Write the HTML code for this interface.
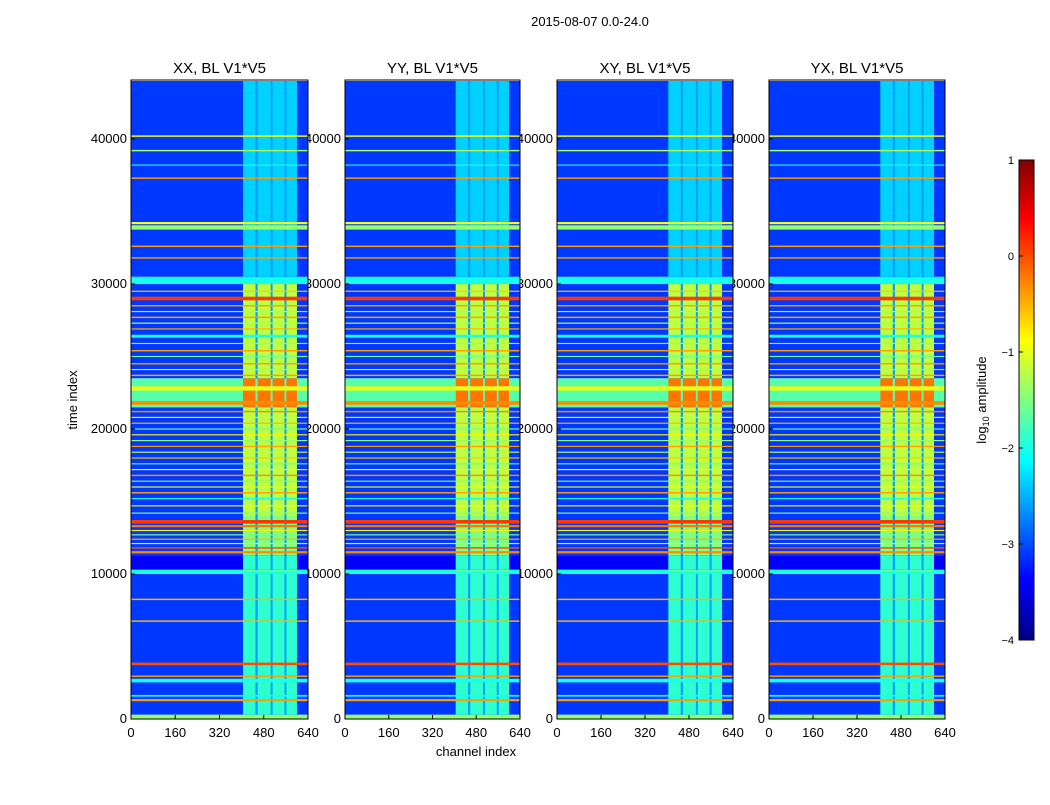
<!DOCTYPE html>
<html><head><meta charset="utf-8"><style>
body{margin:0;background:#fff;font-family:"Liberation Sans",sans-serif}
svg text{font-family:"Liberation Sans",sans-serif}
</style></head><body>
<svg id="c" width="1050" height="800" xmlns="http://www.w3.org/2000/svg">
<text x="590" y="26" font-size="13" text-anchor="middle">2015-08-07 0.0-24.0</text>
</svg>
<script>
const panelTitles=["XX, BL V1*V5","YY, BL V1*V5","XY, BL V1*V5","YX, BL V1*V5"];
const xTicks=[0,160,320,480,640];
const yTicks=[0,10000,20000,30000,40000];
const cbTicks=[1,0,-1,-2,-3,-4];
// sections: [t0,t1,outsideValue,bandValue]
const sections=[[0,300,-1.4,-1.4],[300,10000,-3.1,-1.9],[10000,10300,-2.0,-1.6],[10300,11300,-3.4,-1.9],[11300,14000,-3.1,-1.5],[14000,21500,-3.1,-1.2],[21500,23500,-1.7,-0.2],[23500,30000,-3.1,-1.2],[30000,30500,-2.1,-2.1],[30500,44000,-3.1,-2.35]];
const bandCols=[[405,450],[458,505],[512,555],[562,600]];
const gapVal=-2.6;
// horizontal lines: [time, thickness, value]
const lines=[[1300,150,-0.4],[1600,120,-2.0],[2650,250,-2.0],[2950,100,-0.4],[3800,180,0.0],[6750,100,-0.5],[8250,100,-0.5],[10100,150,-2.0],
[11500,150,-0.3],[11800,100,0.0],[12100,80,-1.0],[12400,80,-0.5],[12700,80,-1.5],[13000,80,-0.8],[13300,150,-0.2],[13600,250,0.1],[14200,80,-1.5],[14700,80,-0.9],[15200,80,-2.0],[15600,100,-0.4],[16000,80,-1.0],[16400,80,-1.5],[16800,100,-0.3],[17200,80,-0.9],[17600,80,-1.6],[18000,80,-0.6],[18400,80,-1.2],[18800,80,-0.4],[19200,80,-1.4],[19600,80,-0.8],[20000,80,-1.6],[20400,80,-0.5],[20800,80,-1.0],[21200,100,-0.3],
[21800,250,-0.3],[22800,300,-1.0],[23700,100,-0.4],[24100,80,-1.3],[24500,100,-0.4],[25000,80,-1.6],[25400,100,-0.4],[25900,80,-1.4],[26400,200,-2.0],[26900,80,-0.5],[27300,80,-1.2],[27700,100,-0.4],[28100,80,-1.3],[28500,100,-0.4],[29000,250,0.1],[29500,80,-0.6],[30200,300,-2.0],
[31800,100,-0.4],[32600,100,-0.4],[33900,300,-1.4],[34200,150,-0.9],[37300,100,-0.4],[38200,80,-2.0],[39200,100,-1.3],[40200,100,-0.9]];
const tMax=44070,cMax=640;
const panelsX=[131,345,557,769],panelsW=[177,175,176,176],pTop=80,pBot=719;
const NS="http://www.w3.org/2000/svg",svg=document.getElementById("c");
function jet(v){let t=(v+4)/5;t=Math.max(0,Math.min(1,t));
 const f=x=>Math.round(255*Math.max(0,Math.min(1,x)));
 return `rgb(${f(1.5-Math.abs(4*t-3))},${f(1.5-Math.abs(4*t-2))},${f(1.5-Math.abs(4*t-1))})`;}
function el(n,a,p){const e=document.createElementNS(NS,n);for(const k in a)e.setAttribute(k,a[k]);(p||svg).appendChild(e);return e;}
const yS=t=>pBot-(t/tMax)*(pBot-pTop);
panelsX.forEach((px,i)=>{
 const pw=panelsW[i];
 const xS=c=>px+c/cMax*pw;
 xTicks.forEach(v=>{const t=el("text",{x:xS(v),y:pBot+18,"font-size":13,"text-anchor":"middle"});t.textContent=v;
 
 });
 yTicks.forEach(v=>{const t=el("text",{x:px-4,y:yS(v)+4,"font-size":13,"text-anchor":"end"});t.textContent=v;
 
 });
 const tt=el("text",{x:px+pw/2,y:pTop-7,"font-size":15,"text-anchor":"middle"});tt.textContent=panelTitles[i];
 
 
});
panelsX.forEach((px,i)=>{
 const pw=panelsW[i];
 const xS=c=>px+c/cMax*pw;
 const g=el("g",{});
 
 
 sections.forEach(s=>{
  const y0=yS(s[1]),h=yS(s[0])-y0;
  const r=el("rect",{x:px,y:y0,width:pw,height:h,fill:jet(s[2])},g);
  
  
  const c0=bandCols[0][0],c1=bandCols[bandCols.length-1][1];
  const gr=el("rect",{x:xS(c0),y:y0,width:xS(c1)-xS(c0),height:h,fill:jet(Math.max(s[2],gapVal))},g);
  
  
  bandCols.forEach(b=>{const br=el("rect",{x:xS(b[0]),y:y0,width:xS(b[1])-xS(b[0]),height:h,fill:jet(s[3])},g);
   
   });
 });
 lines.forEach(l=>{const y0=yS(l[0]+l[1]/2),h=Math.max(1,yS(l[0]-l[1]/2)-y0);
  const r=el("rect",{x:px,y:y0,width:pw,height:h,fill:jet(l[2])},g);
  
  });
 const fr=el("rect",{x:px,y:pTop,width:pw,height:pBot-pTop,fill:"none",stroke:"#000","stroke-width":1});
 
 
 xTicks.forEach(v=>{el("line",{x1:xS(v),x2:xS(v),y1:pBot,y2:pBot-4,stroke:"#000"});});
 yTicks.forEach(v=>{el("line",{x1:px,x2:px+4,y1:yS(v),y2:yS(v),stroke:"#000"});});
});
const xl=el("text",{x:476,y:756,"font-size":13,"text-anchor":"middle"});xl.textContent="channel index";


const yl=el("text",{x:77,y:400,"font-size":13,"text-anchor":"middle",transform:"rotate(-90 77 400)"});yl.textContent="time index";


const cbx=1019,cbw=15,cbT=160,cbB=640;
const defs=el("defs",{});const lg=el("linearGradient",{id:"jg",x1:0,y1:1,x2:0,y2:0},defs);
[0,0.125,0.375,0.625,0.875,1].forEach(o=>el("stop",{offset:o,"stop-color":jet(-4+5*o)},lg));
const cb=el("rect",{x:cbx,y:cbT,width:cbw,height:cbB-cbT,fill:"url(#jg)",stroke:"#000"});


cbTicks.forEach(v=>{const y=cbT+(1-v)/5*(cbB-cbT);
 el("line",{x1:cbx,x2:cbx+4,y1:y,y2:y,stroke:"#000"});
 const t=el("text",{x:cbx-5,y:y+4,"font-size":11,"text-anchor":"end"});t.textContent=v<0?"\u2212"+(-v):v;
 
 });
const cl=el("text",{x:986,y:400,"font-size":13,"text-anchor":"middle",transform:"rotate(-90 986 400)"});
cl.innerHTML='log<tspan font-size="9" dy="3">10</tspan><tspan dy="-3"> amplitude</tspan>';


</script>
</body></html>
